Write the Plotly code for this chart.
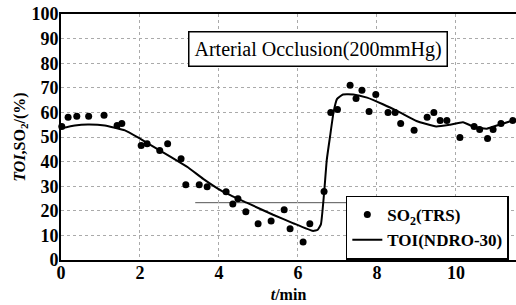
import plotly.graph_objects as go

# SO2 (TRS) dots
so2_t = [0.02, 0.18, 0.4, 0.7, 1.09, 1.42, 1.54, 2.03, 2.18, 2.5, 2.7, 3.04, 3.16, 3.5, 3.7,
         4.18, 4.35, 4.48, 4.68, 4.99, 5.32, 5.65, 5.8, 6.13, 6.3, 6.66, 6.83, 7.0, 7.32,
         7.47, 7.62, 7.8, 7.97, 8.28, 8.46, 8.6, 8.94, 9.27, 9.44, 9.6, 9.77, 10.1, 10.46,
         10.6, 10.8, 10.94, 11.14, 11.44]
so2_v = [54.3, 58, 58.4, 58.4, 58.8, 54.7, 55.5, 46.5, 47.3, 44.5, 47.3, 41.2, 30.6, 30.6, 29.8,
         27.7, 22.8, 24.9, 19.6, 14.7, 15.9, 20.4, 12.7, 7.3, 14.7, 27.8, 60, 61.2, 71,
         65.7, 69, 60.4, 67.3, 60, 60, 55.5, 52.7, 58, 60, 56.7, 56.7, 49.8, 54.3,
         53, 49.4, 53, 55.5, 56.7]

# TOI (NDRO-30) line
toi_t = [0.0, 0.35, 0.68, 1.11, 1.62, 1.95, 2.38, 2.81, 3.22, 3.6, 4.1, 4.7, 5.37, 5.87,
         6.38, 6.5, 6.58, 6.66, 6.73, 6.81, 6.9, 6.99, 7.14, 7.4, 7.75, 8.15, 8.58, 9.0,
         9.5, 9.85, 10.18, 10.43, 10.78, 11.1, 11.5]
toi_v = [53.5, 54.7, 55.1, 54.7, 52.7, 49.8, 45.7, 41.6, 37.6, 33.0, 27.8, 23.3, 18.4, 15.0,
         11.8, 12.3, 14.5, 27, 40.8, 50, 60, 65.5, 67.3, 67.3, 66, 63.3, 60, 56.5,
         54.3, 55, 56, 54.3, 53.4, 55, 57]

x_ticks = [0, 2, 4, 6, 8, 10]
y_ticks = [0, 10, 20, 30, 40, 50, 60, 70, 80, 90, 100]

serif = "Liberation Serif"

fig = go.Figure()
fig.add_trace(go.Scatter(
    x=so2_t, y=so2_v, mode="markers", name="SO<sub>2</sub>(TRS)",
    marker=dict(color="black", size=7), cliponaxis=False))
fig.add_trace(go.Scatter(
    x=toi_t, y=toi_v, mode="lines", name="TOI(NDRO-30)",
    line=dict(color="black", width=2, shape="spline", smoothing=0.4)))

fig.update_layout(
    width=516, height=305,
    margin=dict(l=61, r=0, t=14, b=45, autoexpand=False),
    paper_bgcolor="white", plot_bgcolor="white",
    font=dict(family=serif, color="black"),
    showlegend=True,
    legend=dict(x=0.626, y=0.262, xanchor="left", yanchor="top",
                bordercolor="black", borderwidth=1.5, bgcolor="white",
                font=dict(family=serif, size=17, color="black", weight="bold"),
                tracegroupgap=0, itemwidth=30),
    xaxis=dict(range=[0, 11.52], tickvals=x_ticks, ticktext=[str(v) for v in x_ticks],
               automargin=False,
               showline=True, linecolor="black", linewidth=2, mirror=True,
               showgrid=True, gridcolor="#aaa", griddash="dot", gridwidth=1,
               zeroline=False, ticks="", ticklabelstandoff=-5,
               tickfont=dict(family=serif, size=18, color="black", weight="bold"),
               title=dict(text="<i>t</i>/min", font=dict(family=serif, size=16, weight="bold"),
                          standoff=7)),
    yaxis=dict(range=[0, 100], tickvals=y_ticks, ticktext=[str(v) for v in y_ticks],
               automargin=False,
               showline=True, linecolor="black", linewidth=2, mirror=False,
               showgrid=True, gridcolor="#aaa", griddash="dot", gridwidth=1,
               zeroline=False, ticks="", ticklabelstandoff=-3,
               tickfont=dict(family=serif, size=18, color="black", weight="bold"),
               title=dict(text="<i>TOI</i>,SO<sub>2</sub>/(%)",
                          font=dict(family=serif, size=16, weight="bold"), standoff=2)),
)

fig.add_annotation(
    x=0.565, y=0.857, xref="paper", yref="paper", xanchor="center", yanchor="middle",
    text="Arterial Occlusion(200mmHg)", showarrow=False,
    font=dict(family=serif, size=20, color="black"),
    bordercolor="black", borderwidth=1.5, borderpad=5, bgcolor="white")

# thin stray horizontal rule seen in the original scan
fig.add_shape(type="line", xref="paper", yref="paper",
              x0=0.295, x1=0.87, y0=0.233, y1=0.233,
              line=dict(color="#555", width=1), layer="below")

# remove the default 8px page margin so the figure fills the window exactly
fig.write_html("out.html", config={"displayModeBar": False},
               post_script="document.body.style.margin='0';")
